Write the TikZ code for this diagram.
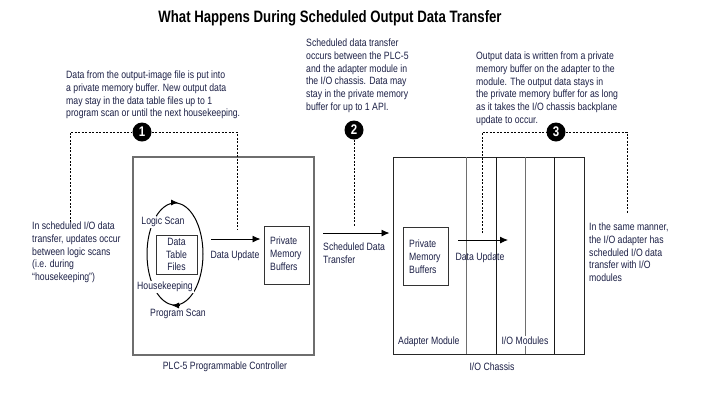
\documentclass[tikz,border=0pt]{standalone}
\usepackage{fontspec}
\setmainfont{Liberation Sans}[FakeStretch=0.82]
\newfontfamily\titlefont{Liberation Sans}[FakeStretch=0.8]
\usetikzlibrary{arrows.meta,shapes.geometric,calc}
\definecolor{navy}{RGB}{28,32,70}
\definecolor{boxgray}{RGB}{110,110,110}
\begin{document}
\begin{tikzpicture}[x=1pt,y=-1pt,
  txt/.style={align=left,inner sep=0pt,text=navy,font=\fontsize{10.6}{12.7}\selectfont},
  lbl/.style={inner sep=0pt,text=navy,font=\fontsize{10.6}{12.7}\selectfont},
  wlbl/.style={lbl,fill=white,inner sep=1pt},
  numcirc/.style={circle,fill=black,minimum size=19pt,inner sep=0pt,text=white,font=\fontsize{14}{14}\selectfont\bfseries},
  dotline/.style={line width=0.9pt,dash pattern=on 2pt off 1.5pt},
  arr/.style={line width=0.9pt,-{Latex[length=8pt,width=7pt]}},
  frame/.style={draw=boxgray,line width=1.2pt},
  ibox/.style={draw=black!80,line width=1pt,fill=white}]
\useasboundingbox[fill=white] (0,0) rectangle (723,416);
% title
\node[inner sep=0pt,font=\titlefont\fontsize{16.5}{19}\selectfont\bfseries] (title) at (330,18) {What Happens During Scheduled Output Data Transfer};
% notes
\node[txt,anchor=north west] (n1) at (66,71) {Data from the output-image file is put into\\a private memory buffer. New output data\\may stay in the data table files up to 1\\program scan or until the next housekeeping.};
\node[txt,anchor=north west] (n2) at (306,39) {Scheduled data transfer\\occurs between the PLC-5\\and the adapter module in\\the I/O chassis. Data may\\stay in the private memory\\buffer for up to 1 API.};
\node[txt,anchor=north west] (n3) at (476,52) {Output data is written from a private\\memory buffer on the adapter to the\\module. The output data stays in\\the private memory buffer for as long\\as it takes the I/O chassis backplane\\update to occur.};
\node[txt,anchor=north west] (nl) at (32,222) {In scheduled I/O data\\transfer, updates occur\\between logic scans\\(i.e. during\\``housekeeping'')};
\node[txt,anchor=north west] (nr) at (589,223) {In the same manner,\\the I/O adapter has\\scheduled I/O data\\transfer with I/O\\modules};
% PLC frame
\node[frame,minimum width=181pt,minimum height=198pt,inner sep=0pt] (plc) at (223.5,256) {};
\node[lbl] (plclbl) at (225,367) {PLC-5 Programmable Controller};
% chassis frame
\node[draw=black!85,line width=1pt,minimum width=191pt,minimum height=197pt,inner sep=0pt] (chassis) at (488.5,255.5) {};
\coordinate (c1t) at (466,157); \coordinate (c1b) at (466,354);
\coordinate (c2t) at (496,157); \coordinate (c2b) at (496,354);
\coordinate (c3t) at (525,157); \coordinate (c3b) at (525,354);
\coordinate (c4t) at (554,157); \coordinate (c4b) at (554,354);
\draw[draw=boxgray,line width=0.9pt] (c1t) -- (c1b);
\draw[draw=black!90,line width=0.9pt] (c2t) -- (c2b);
\draw[draw=boxgray,line width=0.9pt] (c3t) -- (c3b);
\draw[draw=black!90,line width=0.9pt] (c4t) -- (c4b);
\node[lbl] (chlbl) at (492,367) {I/O Chassis};
\node[lbl,anchor=west] (adlbl) at (398,342) {Adapter Module};
\node[wlbl] (iolbl) at (525,341) {I/O Modules};
% scan loop
\node[ellipse,draw=black,line width=1pt,minimum width=56pt,minimum height=102pt,inner sep=0pt] (loop) at (175,254) {};
\draw[line width=0.8pt,-{Latex[length=7pt,width=6pt]}] ([xshift=-4pt]loop.north) -- ([xshift=3pt]loop.north);
\draw[line width=0.8pt,-{Latex[length=7pt,width=6pt]}] ([xshift=4pt]loop.south) -- ([xshift=-3pt]loop.south);
\node[wlbl] (logic) at (163,222) {Logic Scan};
\node[wlbl] (house) at (165,287) {Housekeeping};
\node[lbl] (prog) at (178,314) {Program Scan};
\node[ibox,minimum width=41pt,minimum height=39pt,inner sep=0pt,align=center,text=navy,font=\fontsize{10.6}{12.7}\selectfont] (dtf) at (176.5,254.5) {Data\\Table\\Files};
% PLC private memory buffers
\node[ibox,minimum width=45pt,minimum height=58pt,inner sep=0pt] (pmb1) at (286.5,255) {};
\node[txt,anchor=north west] (pmb1t) at (270,237) {Private\\Memory\\Buffers};
% adapter private memory buffers
\node[ibox,minimum width=45pt,minimum height=58pt,inner sep=0pt] (pmb2) at (425.5,256) {};
\node[txt,anchor=north west] (pmb2t) at (409,240) {Private\\Memory\\Buffers};
% arrows
\coordinate (du1s) at (211,239);
\draw[arr] (du1s) -- ([xshift=-3pt]pmb1.west |- du1s);
\node[lbl] (du1) at (235,256) {Data Update};
\coordinate (sdts) at (323,233);
\draw[arr] (sdts) -- ([xshift=-3pt]chassis.west |- sdts);
\node[txt,anchor=north west] (sdt) at (323,243) {Scheduled Data\\Transfer};
\coordinate (du2s) at (458,240);
\coordinate (du2e) at (508,240);
\draw[arr] (du2s) -- (du2e);
\node[lbl] (du2) at (480,258) {Data Update};
% dashed callouts
\node[numcirc] (c1) at (142,132) {1};
\node[numcirc] (c2) at (354,130) {2};
\node[numcirc] (c3) at (556,132) {3};
\coordinate (d1a) at (70,222); \coordinate (d1b) at (70,132);
\coordinate (d1c) at (237,132); \coordinate (d1d) at (237,230);
\draw[dotline] (d1a) -- (d1b) -- (c1.west);
\draw[dotline] (c1.east) -- (d1c) -- (d1d);
\coordinate (d2b) at (354,227);
\draw[dotline] (c2.south) -- (d2b);
\coordinate (d3a) at (482,233); \coordinate (d3b) at (482,132);
\coordinate (d3c) at (627,132); \coordinate (d3d) at (627,213);
\draw[dotline] (d3a) -- (d3b) -- (c3.west);
\draw[dotline] (c3.east) -- (d3c) -- (d3d);
\end{tikzpicture}
\end{document}
